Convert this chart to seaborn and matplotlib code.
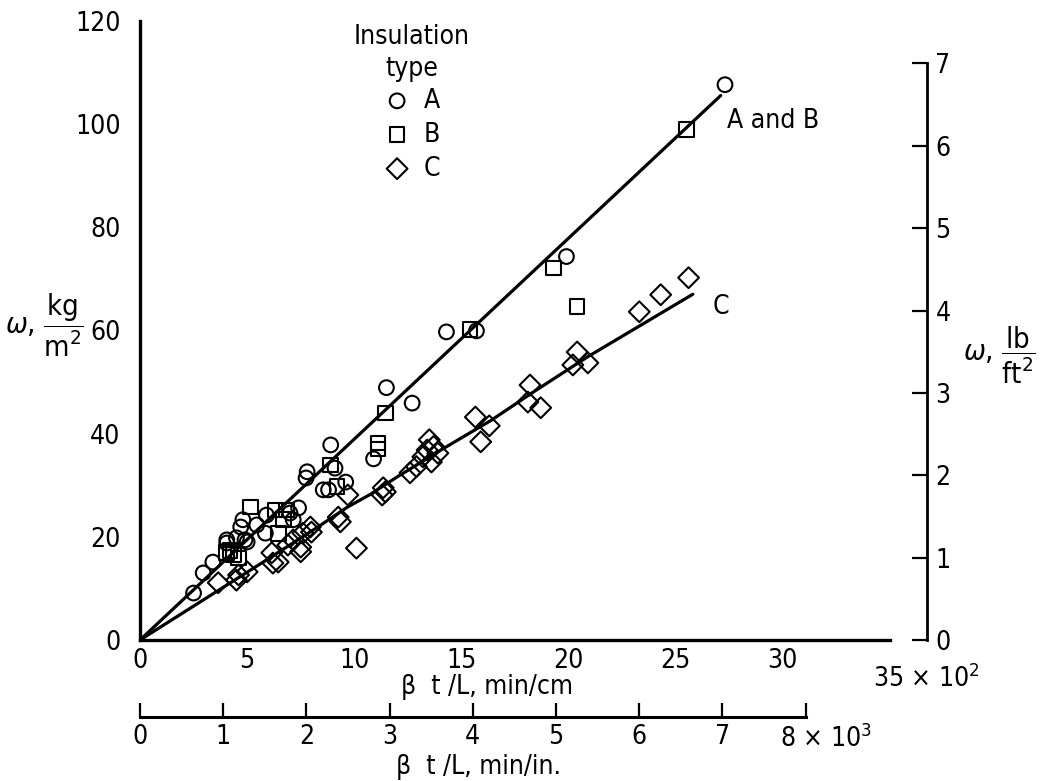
import numpy as np
import pandas as pd
import matplotlib
matplotlib.use("Agg")
import matplotlib.pyplot as plt
import seaborn as sns

# ---------------- data ----------------
# insulation type A (circles)
a_x = [2.5, 2.95, 3.4, 4.05, 4.05, 4.5, 4.7, 4.8, 4.9, 5.0, 5.45, 5.85, 5.9, 7.0, 7.15,
       7.4, 7.75, 7.8, 8.55, 8.8, 8.9, 9.1, 9.6, 10.9, 11.5, 12.7, 14.3, 15.7, 19.9, 27.3]
a_y = [9.1, 13.0, 15.1, 18.8, 19.4, 19.8, 21.9, 23.3, 19.4, 19.0, 22.3, 20.7, 24.2, 24.6, 23.3,
       25.6, 31.4, 32.6, 29.1, 29.1, 37.8, 33.3, 30.6, 35.1, 48.9, 45.9, 59.7, 59.9, 74.3, 107.6]
# insulation type B (squares)
b_x = [4.05, 4.35, 4.6, 4.2, 5.15, 6.3, 6.7, 6.85, 6.45, 8.9, 9.2, 11.1, 11.1, 11.45,
       15.4, 19.3, 20.4, 25.5]
b_y = [16.9, 16.5, 15.9, 17.4, 25.8, 25.2, 23.3, 25.2, 20.7, 33.9, 29.7, 38.2, 37.0, 44.0,
       60.1, 72.1, 64.6, 98.9]
# insulation type C (diamonds)
c_x = [3.65, 4.5, 4.6, 5.0, 6.15, 6.2, 6.45, 6.9, 7.15, 7.5, 7.5, 7.6, 7.95, 8.0, 9.25, 9.35,
       9.7, 10.1, 11.3, 11.35, 11.45, 12.6, 12.9, 13.2, 13.4, 13.5, 13.6, 13.7, 13.9, 15.65,
       15.9, 16.3, 18.1, 18.2, 18.7, 20.2, 20.4, 20.9, 23.3, 24.3, 25.6]
c_y = [11.1, 11.6, 12.6, 13.2, 16.9, 14.9, 15.1, 18.4, 19.4, 18.0, 17.1, 20.7, 21.9, 20.9, 23.8,
       22.9, 28.1, 17.8, 28.1, 29.5, 28.7, 32.4, 33.6, 35.5, 36.8, 38.8, 34.5, 37.5, 36.2, 43.2,
       38.4, 41.5, 46.1, 49.4, 45.0, 53.3, 55.8, 53.7, 63.6, 66.9, 70.2]

# faired curves
line_ab_x = [0, 27.1]
line_ab_y = [0, 105.5]
line_c_x = [0, 5.9, 8.3, 9.7, 10.7, 12.0, 14.2, 16.4, 18.3, 20.9, 25.8]
line_c_y = [0, 15.5, 21.9, 25.8, 28.1, 31.6, 37.2, 42.6, 47.9, 54.9, 67.0]

types = ["A", "B", "C"]
type_markers = {"A": "o", "B": "s", "C": "D"}

x_ticks = [0, 5, 10, 15, 20, 25, 30, 35]
x_ticklabels = ["0", "5", "10", "15", "20", "25", "30", ""]
y_ticks = [0, 20, 40, 60, 80, 100, 120]
y_minor = [10, 30, 50, 70, 90, 110]
r_ticks = [0, 1, 2, 3, 4, 5, 6, 7]
in_ticks = [0, 1, 2, 3, 4, 5, 6, 7, 8]
in_ticklabels = ["0", "1", "2", "3", "4", "5", "6", "7", ""]

KG_PER_RIGHT_UNIT = 15.96   # right-hand scale as drawn
CM_UNITS_PER_IN_UNIT = 3.883  # lower scale as drawn

df = pd.DataFrame({
    "x": a_x + b_x + c_x,
    "y": a_y + b_y + c_y,
    "type": ["A"] * len(a_x) + ["B"] * len(b_x) + ["C"] * len(c_x),
})

# ---------------- style ----------------
sns.set_theme(style="white")
FONT = ["DejaVu Sans"]
plt.rcParams["font.family"] = FONT
plt.rcParams["font.stretch"] = "condensed"
plt.rcParams["mathtext.fontset"] = "dejavusans"
for k in ["axes.edgecolor", "xtick.color", "ytick.color", "text.color", "axes.labelcolor"]:
    plt.rcParams[k] = "black"

FS = 19
W, H = 1042, 781
fig = plt.figure(figsize=(W / 100, H / 100), dpi=100)
ax = fig.add_axes([140 / W, 1 - 640 / H, 750 / W, 619.3 / H])

for t in types:
    sub = df[df["type"] == t]
    sns.scatterplot(data=sub, x="x", y="y", marker=type_markers[t], s=112,
                    facecolors="none", edgecolor="black", linewidth=1.5,
                    label=t, ax=ax, zorder=3)

sns.lineplot(x=line_ab_x, y=line_ab_y, color="black", linewidth=2.3,
             sort=False, estimator=None, ax=ax, legend=False)
sns.lineplot(x=line_c_x, y=line_c_y, color="black", linewidth=2.3,
             sort=False, estimator=None, ax=ax, legend=False)

ax.set_xlim(0, 35)
ax.set_ylim(0, 120)
ax.spines["top"].set_visible(False)
ax.spines["right"].set_visible(False)
for s in ["left", "bottom"]:
    ax.spines[s].set_linewidth(2.4)
ax.set_xticks(x_ticks)
ax.set_xticklabels(x_ticklabels)
ax.set_yticks(y_ticks)
ax.set_yticks(y_minor, minor=True)
ax.tick_params(axis="both", which="both", direction="in", width=1.6, labelsize=FS)
ax.tick_params(axis="y", which="major", length=11, pad=14)
ax.tick_params(axis="y", which="minor", length=10)
ax.tick_params(axis="x", which="major", length=10, pad=6)

ax.set_xlabel(r"β  t /L, min/cm", fontsize=FS)
ax.xaxis.set_label_coords((487 - 140) / 750, (640 - 674) / 619.3)
ax.set_ylabel(r"$\omega$, $\dfrac{\mathrm{kg}}{\mathrm{m}^2}$", fontsize=FS + 2,
              rotation=0, ha="center", va="center")
ax.yaxis.set_label_coords((44 - 140) / 750, (640 - 325) / 619.3)

ax.text(34.2, -7.6, r"35 $\times$ 10$^2$", fontsize=FS, ha="left", va="center",
        clip_on=False)

# right-hand scale (lb/ft^2)
secy = ax.secondary_yaxis((927 - 140) / 750,
                          functions=(lambda v: v / KG_PER_RIGHT_UNIT,
                                     lambda v: v * KG_PER_RIGHT_UNIT))
secy.set_yticks(r_ticks)
secy.spines["right"].set_bounds(0, 7)
secy.spines["right"].set_linewidth(2.0)
secy.tick_params(direction="in", length=11, width=1.6, labelsize=FS, pad=6)
ax.text((999 - 140) / 750, (640 - 355) / 619.3,
        r"$\omega$, $\dfrac{\mathrm{lb}}{\mathrm{ft}^2}$", transform=ax.transAxes,
        fontsize=FS + 2, ha="center", va="center")

# lower scale (min/in.)
secx = ax.secondary_xaxis((640 - 717) / 619.3,
                          functions=(lambda v: v / CM_UNITS_PER_IN_UNIT,
                                     lambda v: v * CM_UNITS_PER_IN_UNIT))
secx.set_xticks(in_ticks)
secx.set_xticklabels(in_ticklabels)
secx.spines["bottom"].set_bounds(0, 8)
secx.spines["bottom"].set_linewidth(2.2)
secx.tick_params(direction="in", length=10, width=1.6, labelsize=FS, pad=5)
ax.text((478 - 140) / 750, (640 - 767) / 619.3, r"β  t /L, min/in.",
        transform=ax.transAxes, fontsize=FS, ha="center", va="center")
ax.text((780 - 140) / 750, (640 - 739) / 619.3, r"8 $\times$ 10$^3$",
        transform=ax.transAxes, fontsize=FS, ha="left", va="center")

# curve labels
ax.text(27.4, 100.5, "A and B", fontsize=FS, ha="left", va="center")
ax.text(26.7, 64.5, "C", fontsize=FS, ha="left", va="center")

leg = ax.legend(title="Insulation\ntype", loc="upper center",
                bbox_to_anchor=(412 / W, 1 - 11 / H), bbox_transform=fig.transFigure,
                frameon=False, fontsize=FS, title_fontsize=FS, handletextpad=0.5,
                labelspacing=0.3, borderpad=0, handlelength=1.0, markerscale=1.0)
leg.get_title().set_multialignment("center")
leg.get_title().set_linespacing(1.3)
leg._legend_box.sep = 4

fig.savefig("out.png", dpi=100)
